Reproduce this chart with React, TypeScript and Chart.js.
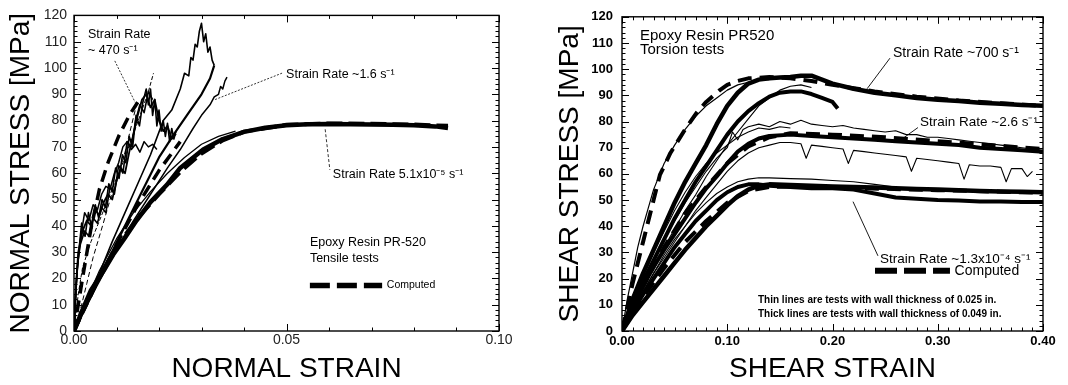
import React, { useEffect, useRef } from 'react';
import { Chart, registerables } from 'chart.js';
Chart.register(...registerables);

const FONT = "'Liberation Sans', Arial, Helvetica, sans-serif";

// ================= LEFT PANEL: tensile tests (normal strain / normal stress) =================
const tensileXTicks = [0, 0.05, 0.1];
const tensileYTicks = [0, 10, 20, 30, 40, 50, 60, 70, 80, 90, 100, 110, 120];

// quasi-static test, strain rate 5.1e-5 /s (thick)
const qsStrain = [0, 0.002, 0.004, 0.007, 0.0092, 0.012, 0.0147, 0.018, 0.0218, 0.025, 0.0304, 0.035, 0.04, 0.045, 0.05, 0.055, 0.06, 0.065, 0.07, 0.075, 0.08, 0.085, 0.088];
const qsStress = [0, 8, 15.5, 23, 29, 35.5, 42, 49, 55.5, 62, 69, 73, 75.7, 77.3, 78.2, 78.6, 78.7, 78.6, 78.5, 78.4, 78.2, 77.8, 77.2];
// quasi-static computed
const qsCompStrain = [0, 0.003, 0.006, 0.01, 0.015, 0.02, 0.025, 0.03, 0.035, 0.04, 0.05, 0.06, 0.07, 0.08, 0.088];
const qsCompStress = [0, 11, 21, 32, 43, 52, 60.5, 67.5, 72.5, 75.8, 78.4, 78.9, 78.8, 78.5, 78];
// quasi-static second test (thin)
const qs2Strain = [0, 0.003, 0.006, 0.01, 0.014, 0.018, 0.022, 0.026, 0.03, 0.034, 0.038];
const qs2Stress = [0, 12, 23, 35, 45, 53, 60, 66, 71, 74, 76];

// intermediate rate ~1.6 /s tests
const midAStrain = [0, 0.003, 0.006, 0.01, 0.014, 0.018, 0.022, 0.025, 0.028, 0.03, 0.032, 0.033, 0.034, 0.0345, 0.035, 0.0355, 0.036];
const midAStress = [0, 10, 19, 31, 42, 52, 62, 69, 77, 82, 86, 89, 90, 93, 92, 95, 96.5];
const midBStrain = [0, 0.004, 0.008, 0.012, 0.016, 0.02, 0.024, 0.027, 0.03, 0.032, 0.033];
const midBStress = [0, 13, 27, 40, 53, 66, 76, 83, 90, 96, 101];
const midCStrain = [0, 0.003, 0.006, 0.009, 0.012, 0.015, 0.018, 0.021, 0.023, 0.025, 0.026, 0.027, 0.0275, 0.028, 0.0285, 0.029, 0.0295, 0.03, 0.0305, 0.031, 0.0315, 0.032, 0.0325, 0.033];
const midCStress = [0, 10, 22, 34, 45, 56, 67, 80, 84, 92, 98, 97, 104, 103, 109, 108, 114, 117, 110, 113, 106, 108, 103, 101];
const midCompStrain = [0, 0.005, 0.01, 0.015, 0.02, 0.025];
const midCompStress = [0, 17, 33, 48, 61, 72];

// high rate ~470 /s tests
const hi1Strain = [0, 0.0005, 0.001, 0.002, 0.003, 0.004, 0.005, 0.006, 0.007, 0.008, 0.009, 0.01, 0.011, 0.012, 0.013, 0.014, 0.015, 0.016, 0.017, 0.018, 0.019, 0.02, 0.021, 0.022, 0.023, 0.024];
const hi1Stress = [0, 18, 30, 38, 42, 40, 46, 44, 49, 52, 50, 57, 62, 60, 68, 75, 82, 88, 90, 85, 88, 80, 76, 78, 73, 75];
const hi2Strain = [0, 0.0007, 0.0015, 0.0025, 0.0035, 0.0045, 0.0055, 0.0065, 0.0075, 0.0085, 0.0095, 0.0105, 0.0115, 0.0125, 0.0135, 0.0145, 0.0155, 0.0165, 0.0175, 0.0185, 0.0195];
const hi2Stress = [0, 22, 35, 45, 42, 48, 46, 52, 55, 54, 60, 64, 70, 72, 69, 71, 68, 72, 70, 71, 69];
const hi3Strain = [0, 0.001, 0.002, 0.004, 0.006, 0.008, 0.01, 0.012, 0.014, 0.016, 0.0175, 0.0187];
const hi3Stress = [0, 14, 24, 34, 42, 50, 58, 66, 75, 84, 91, 98];
const hi4Strain = [0, 0.0015, 0.003, 0.0045, 0.0069, 0.0085, 0.0101, 0.012, 0.0147];
const hi4Stress = [0, 8, 18, 28, 41, 50, 57, 68, 86];
const hi5Strain = [0, 0.0003, 0.0008, 0.0015, 0.0025, 0.0035, 0.0045, 0.0055, 0.0065, 0.0075, 0.0085, 0.0095, 0.0105, 0.0115, 0.0125, 0.0135, 0.0145, 0.0155, 0.0165, 0.0175, 0.0185];
const hi5Stress = [0, 12, 25, 33, 38, 36, 43, 41, 47, 45, 55, 52, 63, 60, 72, 70, 80, 86, 83, 91, 88];
const hi6Strain = [0, 0.0004, 0.001, 0.0018, 0.0026, 0.0034, 0.0042, 0.005, 0.0058, 0.0066, 0.0074, 0.0082, 0.009, 0.0098, 0.0106, 0.0114, 0.0122, 0.013, 0.0138, 0.0146, 0.0154, 0.0162, 0.017, 0.0175, 0.018, 0.0185, 0.019, 0.0195, 0.02, 0.0205, 0.021, 0.0215, 0.022, 0.0225, 0.023, 0.0235, 0.024];
const hi6Stress = [0, 15, 28, 41, 36, 45, 39, 48, 43, 50, 47, 56, 53, 62, 58, 67, 64, 74, 70, 82, 78, 87, 92, 86, 92, 82, 88, 78, 84, 76, 80, 74, 79, 72, 77, 73, 76];
const hiCompStrain = [0, 0.002, 0.004, 0.006, 0.008, 0.0105, 0.013, 0.015];
const hiCompStress = [0, 20, 39, 54, 64, 74, 82, 87];

// leader lines / legend sample (data space)
const lead470X = [0.0096, 0.0144];
const lead470Y = [102.7, 86.9];
const lead16X = [0.0332, 0.0492];
const lead16Y = [88, 98.2];
const leadQsX = [0.0591, 0.0602];
const leadQsY = [76.7, 61.3];
const legTensX = [0.0555, 0.0725];
const legTensY = [17.3, 17.3];

// ================= RIGHT PANEL: torsion tests (shear strain / shear stress) =================
const torsionXTicks = [0, 0.1, 0.2, 0.3, 0.4];
const torsionYTicks = [0, 10, 20, 30, 40, 50, 60, 70, 80, 90, 100, 110, 120];

// high rate ~700 /s
const h1Strain = [0, 0.01, 0.02, 0.03, 0.04, 0.05, 0.06, 0.07, 0.08, 0.09, 0.1, 0.11, 0.12, 0.13, 0.14, 0.15, 0.16, 0.17, 0.18, 0.19, 0.2, 0.22, 0.24, 0.26, 0.28, 0.3, 0.32, 0.34, 0.36, 0.38, 0.4];
const h1Stress = [0, 12, 22, 31, 40, 49, 57, 64, 71, 79, 86, 91, 94.5, 96, 96.5, 96.8, 97, 97.5, 97.5, 96, 94.5, 92.5, 91, 90, 89, 88.3, 87.8, 87.2, 86.8, 86.3, 86];
const h2Strain = [0, 0.01, 0.02, 0.03, 0.04, 0.05, 0.06, 0.07, 0.08, 0.09, 0.1, 0.11, 0.12, 0.13, 0.14, 0.15, 0.16, 0.17, 0.18, 0.19, 0.2, 0.205];
const h2Stress = [0, 10, 19, 27, 35, 43, 50, 57, 63, 69, 75, 80, 84, 87, 89.5, 91, 91.5, 91.5, 90.5, 89, 87.5, 85];
const h3Strain = [0, 0.005, 0.01, 0.015, 0.02, 0.025, 0.03, 0.04, 0.05, 0.06, 0.07, 0.08, 0.09, 0.1, 0.11, 0.12, 0.13, 0.14];
const h3Stress = [0, 12, 22, 32, 40, 47, 54, 64, 71, 77, 82, 86, 89, 92, 94, 95, 96, 96];
const h4Strain = [0, 0.01, 0.02, 0.03, 0.04, 0.05, 0.06, 0.07, 0.08, 0.09, 0.1, 0.11, 0.12, 0.13, 0.14, 0.15, 0.16, 0.17, 0.18];
const h4Stress = [0, 9, 17, 25, 32, 39, 46, 52, 59, 65, 71, 76, 81, 86, 89, 92, 93.5, 94, 93];
const hCompStrain = [0, 0.01, 0.02, 0.03, 0.036, 0.046, 0.06, 0.071, 0.08, 0.093, 0.1, 0.11, 0.12, 0.14, 0.16, 0.18, 0.2, 0.24, 0.28, 0.32, 0.36, 0.4];
const hCompStress = [0, 18, 34, 50, 59.6, 68, 77, 83.4, 87.5, 92, 94, 95.5, 96.5, 97, 96.5, 95.5, 94, 91.5, 89.5, 88, 87, 86];

// medium rate ~2.6 /s
const m1Strain = [0, 0.01, 0.02, 0.03, 0.04, 0.05, 0.06, 0.07, 0.08, 0.09, 0.1, 0.11, 0.12, 0.13, 0.14, 0.16, 0.18, 0.2, 0.22, 0.24, 0.26, 0.28, 0.3, 0.32, 0.34, 0.36, 0.38, 0.4];
const m1Stress = [0, 9, 17, 24.5, 31, 37, 43, 49, 54.5, 59, 64, 68.5, 71.5, 73.5, 74.5, 75, 74.5, 74, 73.5, 73, 72.5, 72, 71.5, 71, 70, 69.5, 69, 68.5];
const m2Strain = [0, 0.01, 0.02, 0.03, 0.04, 0.05, 0.06, 0.07, 0.08, 0.09, 0.1, 0.105, 0.11, 0.115, 0.12, 0.13, 0.14, 0.15, 0.16, 0.17, 0.18, 0.19, 0.2, 0.21, 0.22, 0.23, 0.24, 0.25, 0.26, 0.27, 0.28, 0.29, 0.3, 0.31, 0.32, 0.33, 0.34, 0.35, 0.36, 0.37, 0.38, 0.39, 0.4];
const m2Stress = [0, 10, 19, 27, 35, 42, 49, 55, 61, 66, 70, 76, 73, 77, 78, 79, 78, 80, 79, 80.5, 79, 78.5, 78, 78.5, 77.5, 77, 76.5, 76, 76.5, 75, 75, 74, 74, 73.5, 73, 72.5, 72, 71.5, 71, 70.5, 70, 69.5, 69];
const m3Strain = [0, 0.01, 0.02, 0.03, 0.04, 0.05, 0.06, 0.07, 0.08, 0.09, 0.1, 0.11, 0.12, 0.13, 0.14, 0.15, 0.16, 0.17, 0.175, 0.18, 0.19, 0.2, 0.21, 0.215, 0.22, 0.23, 0.24, 0.25, 0.26, 0.27, 0.275, 0.28, 0.29, 0.3, 0.31, 0.32, 0.325, 0.33, 0.34, 0.35, 0.36, 0.365, 0.37, 0.38, 0.385, 0.39];
const m3Stress = [0, 8, 15, 22, 28, 34, 40, 46, 51, 56, 61, 65, 68, 70, 71, 72, 72, 71.5, 66, 71, 70.5, 70, 69.5, 64, 69, 68.5, 68, 67.5, 67, 66.5, 61, 66, 65.5, 65, 64.5, 64, 58, 63.5, 63, 63, 62.5, 57, 62, 62, 59, 61];
const m4Strain = [0, 0.01, 0.02, 0.03, 0.04, 0.05, 0.06, 0.07, 0.08, 0.09, 0.1, 0.11, 0.12, 0.13, 0.14, 0.15, 0.16];
const m4Stress = [0, 11, 21, 30, 38, 46, 53, 59, 64, 68, 71, 74, 76, 77.5, 77, 78, 77.5];
const mCompStrain = [0, 0.02, 0.04, 0.06, 0.08, 0.1, 0.12, 0.14, 0.16, 0.2, 0.25, 0.3, 0.35, 0.4];
const mCompStress = [0, 17, 32, 45, 55, 64, 70.5, 74, 75.5, 75, 74, 72.5, 71, 69.5];

// low rate ~1.3e-4 /s
const l1Strain = [0, 0.01, 0.02, 0.03, 0.04, 0.05, 0.06, 0.07, 0.08, 0.09, 0.1, 0.11, 0.12, 0.13, 0.14, 0.16, 0.18, 0.2, 0.22, 0.24, 0.26, 0.28, 0.3, 0.32, 0.34, 0.36, 0.38, 0.4];
const l1Stress = [0, 6, 11, 16, 21, 26, 31, 35.5, 40, 44, 48, 51.5, 54, 55.5, 56, 55.8, 55.5, 55.2, 55, 54.8, 54.5, 54.2, 54, 53.8, 53.5, 53.3, 53.2, 53];
const l2Stress = [0, 7.5, 14, 20, 26, 32, 37, 42, 46, 50, 53, 55, 56, 56, 55.5, 55, 54.5, 54.5, 54, 52.5, 51, 50.5, 50, 49.8, 49.5, 49.5, 49.3, 49.3];
const l3Strain = [0, 0.01, 0.02, 0.03, 0.04, 0.05, 0.06, 0.07, 0.08, 0.09, 0.1, 0.11, 0.12, 0.13, 0.14, 0.16, 0.18, 0.2, 0.22, 0.24, 0.26];
const l3Stress = [0, 8, 15, 22, 29, 35, 40, 45, 49, 52.5, 55, 57, 58, 58.5, 58.5, 58.2, 58, 57.5, 57, 56, 55];
const lCompStrain = [0, 0.02, 0.04, 0.06, 0.08, 0.1, 0.12, 0.14, 0.16, 0.2, 0.25, 0.3, 0.35, 0.4];
const lCompStress = [0, 13, 24, 34, 42, 49, 53.5, 55, 55.2, 54.8, 54.3, 53.8, 53.3, 52.8];

const lead700X = [0.2546, 0.2328];
const lead700Y = [104.2, 92.5];
const lead26X = [0.2812, 0.267];
const lead26Y = [77.7, 73.6];
const leadLowX = [0.2432, 0.2195];
const leadLowY = [28.7, 49.4];
const legTorsX = [0.2404, 0.3116];
const legTorsY = [23, 23];

// ================= helpers =================
const zip = (xs: number[], ys: number[]) => xs.map((x, i) => ({ x, y: ys[i] }));
const ds = (xs: number[], ys: number[], w: number, dash: number[] = []) => ({
  data: zip(xs, ys),
  borderColor: '#000',
  backgroundColor: '#000',
  borderWidth: w,
  borderDash: dash,
  borderCapStyle: 'butt',
  borderJoinStyle: 'round',
  pointRadius: 0,
  showLine: true,
  fill: false,
  tension: 0,
});

type TextItem = { text: string; x: number; y: number; font: string };

const makeFramePlugin = (cfg: {
  xMinor: number; xEvery: number; yMinor: number; yEvery: number; texts: TextItem[];
}) => ({
  id: 'frameTicks',
  afterDatasetsDraw(chart: any) {
    const { ctx, chartArea: a } = chart;
    const xS = chart.scales.x;
    const yS = chart.scales.y;
    ctx.save();
    ctx.strokeStyle = '#000';
    ctx.lineWidth = 1.4;
    ctx.strokeRect(a.left, a.top, a.right - a.left, a.bottom - a.top);
    ctx.lineWidth = 1;
    const major = 7;
    const minor = 3.5;
    const nx = Math.round((xS.max - xS.min) / cfg.xMinor);
    ctx.beginPath();
    for (let i = 0; i <= nx; i++) {
      const p = Math.round(xS.getPixelForValue(xS.min + i * cfg.xMinor)) + 0.5;
      const L = i % cfg.xEvery === 0 ? major : minor;
      ctx.moveTo(p, a.bottom); ctx.lineTo(p, a.bottom - L);
      ctx.moveTo(p, a.top); ctx.lineTo(p, a.top + L);
    }
    const ny = Math.round((yS.max - yS.min) / cfg.yMinor);
    for (let i = 0; i <= ny; i++) {
      const p = Math.round(yS.getPixelForValue(yS.min + i * cfg.yMinor)) + 0.5;
      const L = i % cfg.yEvery === 0 ? major : minor;
      ctx.moveTo(a.left, p); ctx.lineTo(a.left + L, p);
      ctx.moveTo(a.right, p); ctx.lineTo(a.right - L, p);
    }
    ctx.stroke();
    ctx.fillStyle = '#000';
    ctx.textAlign = 'left';
    ctx.textBaseline = 'middle';
    for (const t of cfg.texts) {
      ctx.font = t.font;
      ctx.fillText(t.text, xS.getPixelForValue(t.x), yS.getPixelForValue(t.y));
    }
    ctx.restore();
  },
});

const axisBase = (
  min: number, max: number, ticksArr: number[], fmt: (v: number) => string,
  fit: (s: any) => void, tickFont: any, tickColor: string, tickPad: number,
  title: string, titlePad: any,
) => ({
  type: 'linear',
  min, max,
  afterBuildTicks: (s: any) => { s.ticks = ticksArr.map((v) => ({ value: v })); },
  afterFit: fit,
  grid: { display: false, drawTicks: false },
  border: { display: false },
  ticks: { autoSkip: false, maxRotation: 0, padding: tickPad, color: tickColor, font: tickFont, callback: (v: any) => fmt(Number(v)) },
  title: { display: true, text: title, color: '#000', font: { family: FONT, size: 28, lineHeight: 1.1 }, padding: titlePad },
});

function buildLeft() {
  const tickFont = { family: FONT, size: 14 };
  return {
    type: 'scatter',
    data: {
      datasets: [
        ds(qs2Strain, qs2Stress, 1.3),
        ds(hi4Strain, hi4Stress, 1, [5, 3]),
        ds(hi3Strain, hi3Stress, 1, [4, 2]),
        ds(hi2Strain, hi2Stress, 1.5),
        ds(hi5Strain, hi5Stress, 1.6),
        ds(hi6Strain, hi6Stress, 1.6),
        ds(hi1Strain, hi1Stress, 1.8),
        ds(midAStrain, midAStress, 1.5),
        ds(midBStrain, midBStress, 2.2),
        ds(midCStrain, midCStress, 1.6),
        ds(hiCompStrain, hiCompStress, 3.5, [12, 7]),
        ds(midCompStrain, midCompStress, 3.5, [12, 7]),
        ds(qsStrain, qsStress, 4.5),
        ds(qsCompStrain, qsCompStress, 4, [16, 6]),
        ds(lead470X, lead470Y, 0.8, [2, 1.5]),
        ds(lead16X, lead16Y, 0.8, [2, 1.5]),
        ds(leadQsX, leadQsY, 0.8, [3, 2]),
        ds(legTensX, legTensY, 5.5, [20, 7]),
      ],
    },
    options: {
      animation: false, responsive: false, events: [],
      layout: { padding: { left: 0, top: 12, right: 35, bottom: 0 } },
      plugins: { legend: { display: false }, tooltip: { enabled: false } },
      scales: {
        x: axisBase(0, 0.1, tensileXTicks, (v) => v.toFixed(2), (s: any) => { s.height = 54; }, tickFont, '#222', 1, 'NORMAL STRAIN', { top: 0, bottom: 0 }),
        y: axisBase(0, 120, tensileYTicks, (v) => String(v), (s: any) => { s.width = 74; }, tickFont, '#222', 7, 'NORMAL STRESS [MPa]', { top: 6, bottom: 0 }),
      },
    },
    plugins: [makeFramePlugin({
      xMinor: 0.01, xEvery: 5, yMinor: 2, yEvery: 5,
      texts: [
        { text: 'Strain Rate', x: 0.0033, y: 112.9, font: `12.5px ${FONT}` },
        { text: '~ 470 s⁻¹', x: 0.0033, y: 106.8, font: `12.5px ${FONT}` },
        { text: 'Strain Rate ~1.6 s⁻¹', x: 0.0499, y: 97.4, font: `12.5px ${FONT}` },
        { text: 'Strain Rate 5.1x10⁻⁵ s⁻¹', x: 0.0609, y: 59.4, font: `12.5px ${FONT}` },
        { text: 'Epoxy Resin PR-520', x: 0.0555, y: 33.5, font: `12.5px ${FONT}` },
        { text: 'Tensile tests', x: 0.0555, y: 27.5, font: `12.5px ${FONT}` },
        { text: 'Computed', x: 0.0736, y: 17.3, font: `10.5px ${FONT}` },
      ],
    })],
  };
}

function buildRight() {
  const tickFont = { family: FONT, size: 13, weight: 'bold' };
  return {
    type: 'scatter',
    data: {
      datasets: [
        ds(m2Strain, m2Stress, 1.1),
        ds(m3Strain, m3Stress, 1.1),
        ds(m4Strain, m4Stress, 1.1),
        ds(h3Strain, h3Stress, 1.2),
        ds(h4Strain, h4Stress, 1.1),
        ds(l3Strain, l3Stress, 1.1),
        ds(l1Strain, l1Stress, 4.5),
        ds(l1Strain, l2Stress, 4),
        ds(m1Strain, m1Stress, 4),
        ds(h1Strain, h1Stress, 4.5),
        ds(h2Strain, h2Stress, 4),
        ds(hCompStrain, hCompStress, 4, [14, 8]),
        ds(mCompStrain, mCompStress, 4, [14, 8]),
        ds(lCompStrain, lCompStress, 4, [14, 8]),
        ds(lead700X, lead700Y, 0.9),
        ds(lead26X, lead26Y, 0.9),
        ds(leadLowX, leadLowY, 0.9),
        ds(legTorsX, legTorsY, 6, [22, 7]),
      ],
    },
    options: {
      animation: false, responsive: false, events: [],
      layout: { padding: { left: 0, top: 13, right: 25, bottom: 0 } },
      plugins: { legend: { display: false }, tooltip: { enabled: false } },
      scales: {
        x: axisBase(0, 0.4, torsionXTicks, (v) => v.toFixed(2), (s: any) => { s.height = 54; }, tickFont, '#000', 3, 'SHEAR STRAIN', { top: 0, bottom: 0 }),
        y: axisBase(0, 120, torsionYTicks, (v) => String(v), (s: any) => { s.width = 88; }, tickFont, '#000', 9, 'SHEAR STRESS [MPa]', { top: 21, bottom: 0 }),
      },
    },
    plugins: [makeFramePlugin({
      xMinor: 0.01, xEvery: 10, yMinor: 2, yEvery: 5,
      texts: [
        { text: 'Epoxy Resin PR520', x: 0.0171, y: 112.8, font: `15px ${FONT}` },
        { text: 'Torsion tests', x: 0.0171, y: 107.2, font: `15px ${FONT}` },
        { text: 'Strain Rate ~700 s⁻¹', x: 0.2575, y: 106, font: `14px ${FONT}` },
        { text: 'Strain Rate ~2.6 s⁻¹', x: 0.2831, y: 79.6, font: `13.5px ${FONT}` },
        { text: 'Strain Rate ~1.3x10⁻⁴ s⁻¹', x: 0.2451, y: 27.5, font: `13.5px ${FONT}` },
        { text: 'Computed', x: 0.316, y: 23, font: `14px ${FONT}` },
        { text: 'Thin lines are tests with wall thickness of 0.025 in.', x: 0.1292, y: 11.7, font: `bold 10px ${FONT}` },
        { text: 'Thick lines are tests with wall thickness of 0.049 in.', x: 0.1292, y: 6.4, font: `bold 10px ${FONT}` },
      ],
    })],
  };
}

function Panel({ build, left }: { build: () => any; left: number }) {
  const ref = useRef<HTMLCanvasElement | null>(null);
  useEffect(() => {
    if (!ref.current) return;
    const chart = new Chart(ref.current, build());
    return () => chart.destroy();
  }, [build]);
  return (
    <canvas
      ref={ref}
      width={534}
      height={385}
      style={{ position: 'absolute', left, top: 0, width: 534, height: 385, display: 'block' }}
    />
  );
}

export default function App() {
  return (
    <div style={{ position: 'absolute', left: 0, top: 0, width: 1068, height: 385, background: '#fff', overflow: 'hidden' }}>
      <Panel build={buildLeft} left={0} />
      <Panel build={buildRight} left={534} />
    </div>
  );
}
